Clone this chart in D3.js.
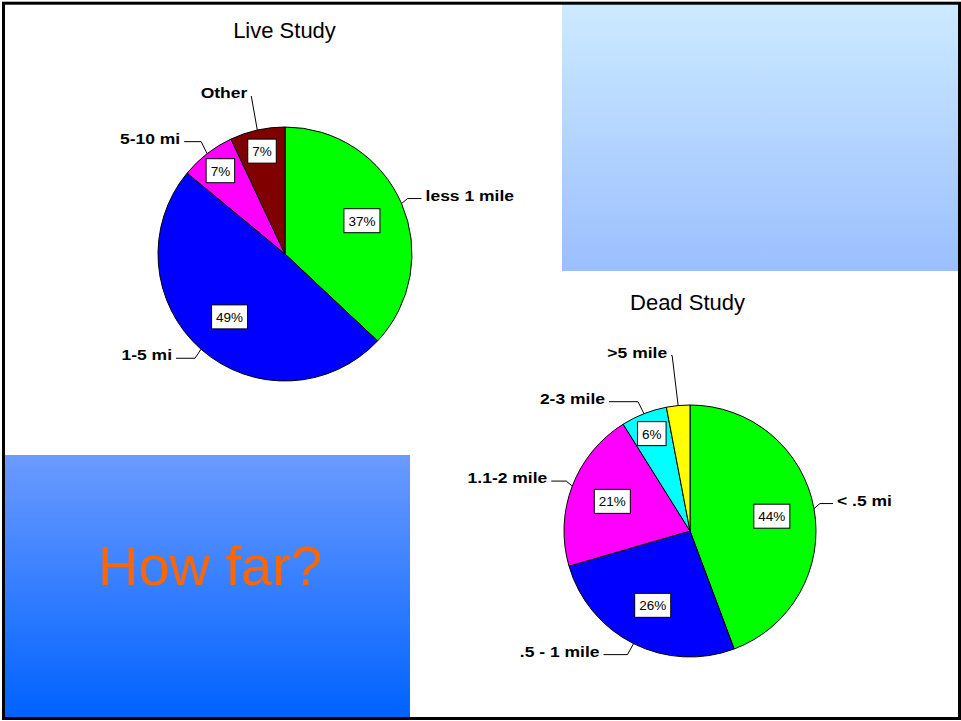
<!doctype html>
<html>
<head>
  <meta charset="utf-8">
  <title>How far?</title>
  <style>
    body { margin: 0; background: #fff; }
    svg { display: block; }
  </style>
</head>
<body>
  <div class="slide"></div>
  <script src="https://cdn.jsdelivr.net/npm/d3@7"></script>
  <script>

// data
var liveCategories = ["less 1 mile", "1-5 mi", "5-10 mi", "Other"];
var liveValues = [37, 49, 7, 7];

var deadCategories = ["< .5 mi", ".5 - 1 mile", "1.1-2 mile", "2-3 mile", ">5 mile"];
var deadValues = [44.3, 26.2, 20.6, 5.9, 3.0];

var titles = ["Live Study", "Dead Study"];
var headline = "How far?";

// styling / layout
var liveColors = ["#00ff00", "#0000ff", "#ff00ff", "#800000"];
var deadColors = ["#00ff00", "#0000ff", "#ff00ff", "#00ffff", "#ffff00"];
// where each category label sits, relative to the point on the rim
var liveLabelOffsets = [[24, -8], [-29, 6], [-27, -15], [-10, -37]];
var deadLabelOffsets = [[23, -8], [-34, 8], [-25, -8], [-39, -15], [-11, -53]];

var W = 961, H = 721;

var svg = d3.select(".slide")
    .append("svg")
    .attr("width", W)
    .attr("height", H);

var defs = svg.append("defs");

function gradient(id, top, bottom) {
    var g = defs.append("linearGradient")
        .attr("id", id)
        .attr("x1", 0).attr("y1", 0)
        .attr("x2", 0).attr("y2", 1);
    g.append("stop").attr("offset", "0%").attr("stop-color", top);
    g.append("stop").attr("offset", "100%").attr("stop-color", bottom);
}
gradient("skyGrad", "#cceaff", "#9bbfff");
gradient("blueGrad", "#6b9bff", "#0062ff");

// decorative boxes
svg.append("rect")
    .attr("x", 562).attr("y", 4)
    .attr("width", 396).attr("height", 267)
    .attr("fill", "url(#skyGrad)");

svg.append("rect")
    .attr("x", 5).attr("y", 455)
    .attr("width", 405).attr("height", 262)
    .attr("fill", "url(#blueGrad)");

svg.append("text")
    .attr("x", 210).attr("y", 585)
    .attr("text-anchor", "middle")
    .attr("font-family", "'Comic Sans MS', 'Liberation Sans', Arial, sans-serif")
    .attr("font-size", 56)
    .attr("fill", "#ff6600")
    .text(headline);

function drawPie(cfg) {
    var total = d3.sum(cfg.values);
    var data = cfg.values.map(function(v, i) {
        return { name: cfg.categories[i], value: v, pct: Math.round(v / total * 100) };
    });

    var pie = d3.pie().sort(null).value(function(d) { return d.value; });
    var arcs = pie(data);

    var arc = d3.arc().innerRadius(0).outerRadius(cfg.r);
    var rim = d3.arc().innerRadius(cfg.r).outerRadius(cfg.r);

    var g = svg.append("g")
        .attr("transform", "translate(" + cfg.cx + "," + cfg.cy + ")");

    svg.append("text")
        .attr("x", cfg.titleX).attr("y", cfg.titleY)
        .attr("text-anchor", "middle")
        .attr("font-family", "'Liberation Sans', Arial, sans-serif")
        .attr("font-size", 22)
        .attr("fill", "#000")
        .text(cfg.title);

    g.selectAll("path.slice")
        .data(arcs)
        .enter().append("path")
        .attr("class", "slice")
        .attr("d", arc)
        .attr("fill", function(d, i) { return cfg.colors[i]; })
        .attr("stroke", "#000")
        .attr("stroke-width", 1);

    // percentage boxes
    arcs.forEach(function(d) {
        if (d.data.pct < 5) return;
        var f = d.data.pct >= 15 ? 0.66 : 0.83;
        var a = (d.startAngle + d.endAngle) / 2;
        var x = Math.sin(a) * cfg.r * f,
            y = -Math.cos(a) * cfg.r * f;
        var label = d.data.pct + "%";
        var t = g.append("text")
            .attr("x", x).attr("y", y)
            .attr("dy", "0.36em")
            .attr("text-anchor", "middle")
            .attr("font-family", "'Liberation Sans', Arial, sans-serif")
            .attr("font-size", 13.5)
            .attr("fill", "#000")
            .text(label);
        var bb = t.node().getBBox();
        g.insert("rect", function() { return t.node(); })
            .attr("x", bb.x - 4.5).attr("y", y - 12)
            .attr("width", bb.width + 9).attr("height", 24)
            .attr("fill", "#fff")
            .attr("stroke", "#000")
            .attr("stroke-width", 1);
    });

    // category labels with leader lines
    arcs.forEach(function(d, i) {
        var p = rim.centroid(d);
        var off = cfg.offsets[i];
        var dir = off[0] < 0 ? -1 : 1;
        var edgeX = p[0] + off[0],
            midY = p[1] + off[1];
        var endX = edgeX - dir * 4,
            lineY = midY + 3;
        var elbowX = p[0] + dir * Math.min(6, Math.abs(endX - p[0]));

        g.append("polyline")
            .attr("points", [p, [elbowX, lineY], [endX, lineY]].map(function(q) { return q.join(","); }).join(" "))
            .attr("fill", "none")
            .attr("stroke", "#000")
            .attr("stroke-width", 1);

        g.append("g")
            .attr("transform", "translate(" + edgeX + "," + midY + ") scale(1.25,1)")
            .append("text")
            .attr("dy", "0.36em")
            .attr("text-anchor", dir < 0 ? "end" : "start")
            .attr("font-family", "'Liberation Sans', Arial, sans-serif")
            .attr("font-weight", "bold")
            .attr("font-size", 14)
            .attr("fill", "#000")
            .text(d.data.name);
    });
}

drawPie({
    title: titles[0], titleX: 284.5, titleY: 38,
    cx: 285, cy: 254, r: 127,
    categories: liveCategories, values: liveValues,
    colors: liveColors, offsets: liveLabelOffsets
});

drawPie({
    title: titles[1], titleX: 687.5, titleY: 310,
    cx: 690, cy: 531, r: 126,
    categories: deadCategories, values: deadValues,
    colors: deadColors, offsets: deadLabelOffsets
});

// slide frame
svg.append("rect")
    .attr("x", 3.5).attr("y", 3.2)
    .attr("width", 956).attr("height", 715.3)
    .attr("fill", "none")
    .attr("stroke", "#000")
    .attr("stroke-width", 3);

  </script>
</body>
</html>
